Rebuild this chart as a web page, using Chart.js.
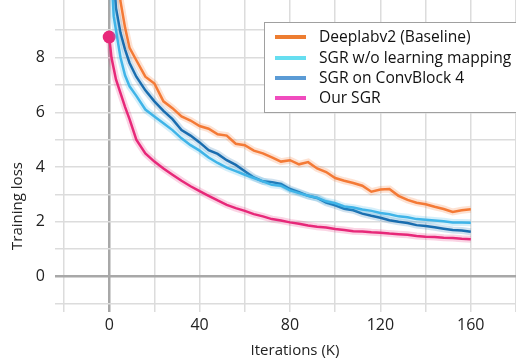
<!DOCTYPE html>
<html>
<head>
<meta charset="utf-8">
<script src="https://cdn.jsdelivr.net/npm/chart.js@4"></script>
<style>
  body { margin: 0; background: #fff; }
  #wrap { width: 516px; height: 362px; }
</style>
</head>
<body>
<div id="wrap"><canvas id="lossChart" width="516" height="362"></canvas></div>
<script>
// iterations (K)
const iters = [0, 1, 2, 3, 5, 7, 9, 12, 16, 20, 24, 28, 32, 36, 40, 44, 48, 52, 56, 60, 64, 68, 72, 76,
  80, 84, 88, 92, 96, 100, 104, 108, 112, 116, 120, 124, 128, 132, 136, 140, 144, 148, 152, 156, 160];

const deeplabLoss = [15, 13.8, 12.6, 11.5, 10.05, 9.1, 8.35, 7.9, 7.3, 7.05, 6.4, 6.15, 5.85, 5.7, 5.5, 5.4, 5.2, 5.15,
  4.85, 4.8, 4.6, 4.5, 4.35, 4.2, 4.25, 4.1, 4.18, 3.95, 3.82, 3.6, 3.5, 3.42, 3.32, 3.1, 3.18, 3.2, 2.95,
  2.8, 2.7, 2.64, 2.55, 2.47, 2.36, 2.42, 2.46];
const noMappingLoss = [13, 11, 9.5, 9.0, 8.0, 7.35, 6.95, 6.6, 6.1, 5.85, 5.6, 5.35, 5.05, 4.8, 4.6, 4.35, 4.15,
  3.98, 3.85, 3.72, 3.6, 3.48, 3.35, 3.32, 3.15, 3.05, 2.95, 2.88, 2.75, 2.68, 2.56, 2.52, 2.45, 2.4, 2.32, 2.28,
  2.2, 2.17, 2.1, 2.08, 2.05, 2.02, 1.98, 1.98, 1.97];
const convBlock4Loss = [14, 12.5, 11, 9.8, 8.9, 8.3, 7.8, 7.3, 6.8, 6.4, 6.05, 5.75, 5.35, 5.15, 4.9, 4.62, 4.48,
  4.25, 4.08, 3.85, 3.62, 3.48, 3.45, 3.38, 3.2, 3.08, 2.95, 2.87, 2.7, 2.6, 2.48, 2.42, 2.3, 2.22, 2.15, 2.06,
  2.0, 1.96, 1.88, 1.85, 1.8, 1.75, 1.7, 1.68, 1.64];
const ourSgrLoss = [8.75, 8.0, 7.6, 7.2, 6.7, 6.2, 5.75, 5.0, 4.5, 4.2, 3.95, 3.72, 3.5, 3.3, 3.12, 2.95, 2.78,
  2.62, 2.5, 2.4, 2.28, 2.2, 2.1, 2.05, 1.98, 1.93, 1.87, 1.82, 1.79, 1.74, 1.7, 1.66, 1.65, 1.62, 1.6, 1.57,
  1.55, 1.53, 1.48, 1.46, 1.45, 1.42, 1.41, 1.38, 1.36];

const seriesNames = ['Deeplabv2 (Baseline)', 'SGR w/o learning mapping', 'SGR on ConvBlock 4', 'Our SGR'];
const lineColors = ['#f47a36', '#3fb4e8', '#1a6db0', '#e8287a'];
const haloColors = ['rgba(244,122,54,0.22)', 'rgba(63,180,232,0.22)', 'rgba(26,109,176,0.2)', 'rgba(232,40,122,0.2)'];
const legendColors = ['#ed7d31', '#66def0', '#5b9bd5', '#f04cbe'];
const xTickLabels = [0, 40, 80, 120, 160];
const yTickLabels = [0, 2, 4, 6, 8];

const allSeries = [deeplabLoss, noMappingLoss, convBlock4Loss, ourSgrLoss];
const toPoints = arr => arr.map((v, i) => ({ x: iters[i], y: v }));

let datasets = [];
allSeries.forEach((arr, i) => {
  datasets.push({
    label: seriesNames[i] + ' raw',
    data: toPoints(arr),
    borderColor: haloColors[i],
    borderWidth: 7,
    pointRadius: 0,
    tension: 0
  });
  datasets.push({
    label: seriesNames[i],
    data: toPoints(arr),
    borderColor: lineColors[i],
    backgroundColor: lineColors[i],
    borderWidth: 2.5,
    pointRadius: i === 3 ? ctx => (ctx.dataIndex === 0 ? 6.5 : 0) : 0,
    pointBorderWidth: 0,
    tension: 0
  });
});

const gridColor = ctx => (ctx.tick && ctx.tick.value === 0 ? '#a8a8a8' : '#dcdcdc');
const gridWidth = ctx => (ctx.tick && ctx.tick.value === 0 ? 2.5 : 1.5);

// legend box + axis titles
const decorations = {
  id: 'decorations',
  afterDraw(chart) {
    const c = chart.ctx;
    c.save();
    c.fillStyle = '#fff';
    c.strokeStyle = '#a0a0a0';
    c.lineWidth = 1;
    c.fillRect(264.5, 22.5, 260, 90);
    c.strokeRect(264.5, 22.5, 260, 90);
    c.font = '15.6px "Open Sans"';
    c.textBaseline = 'middle';
    const rowY = [37, 58, 78, 98];
    seriesNames.forEach((name, i) => {
      c.strokeStyle = legendColors[i];
      c.lineWidth = 4;
      c.beginPath();
      c.moveTo(275, rowY[i]);
      c.lineTo(306, rowY[i]);
      c.stroke();
      c.fillStyle = '#111';
      c.fillText(name, 319, rowY[i] + 1);
    });
    c.fillStyle = '#222';
    c.font = '15px "Open Sans"';
    c.textAlign = 'center';
    c.fillText('Iterations (K)', 295, 351);
    c.translate(18, 206);
    c.rotate(-Math.PI / 2);
    c.fillText('Training loss', 0, 0);
    c.restore();
  }
};

const ctx = document.getElementById('lossChart').getContext('2d');
const lossChart = new Chart(ctx, {
  type: 'line',
  data: { datasets: datasets },
  options: {
    responsive: false,
    animation: false,
    layout: { padding: 0, autoPadding: false },
    plugins: { legend: { display: false }, tooltip: { enabled: false } },
    scales: {
      x: {
        type: 'linear',
        min: -20,
        max: 180,
        afterBuildTicks: s => { s.ticks = s.ticks.filter(t => t.value % 20 === 0); },
        afterFit: s => { s.height = 58; s.paddingLeft = 0; s.paddingRight = 0; },
        ticks: {
          stepSize: 20,
          padding: 4,
          color: '#222',
          font: { family: 'Open Sans', size: 16 },
          maxRotation: 0,
          autoSkip: false,
          callback: v => (xTickLabels.includes(v) ? String(v) : '')
        },
        grid: { color: gridColor, lineWidth: gridWidth, tickLength: 8 },
        border: { display: false }
      },
      y: {
        type: 'linear',
        min: -1,
        max: 10.1,
        afterBuildTicks: s => { s.ticks = s.ticks.filter(t => Number.isInteger(t.value)); },
        afterFit: s => { s.width = 64; s.paddingTop = 0; s.paddingBottom = 0; },
        ticks: {
          stepSize: 1,
          padding: 10,
          color: '#222',
          font: { family: 'Open Sans', size: 16 },
          autoSkip: false,
          callback: v => (yTickLabels.includes(v) ? String(v) : '')
        },
        grid: { color: gridColor, lineWidth: gridWidth, tickLength: 9 },
        border: { display: false }
      }
    }
  },
  plugins: [decorations]
});
</script>
</body>
</html>
